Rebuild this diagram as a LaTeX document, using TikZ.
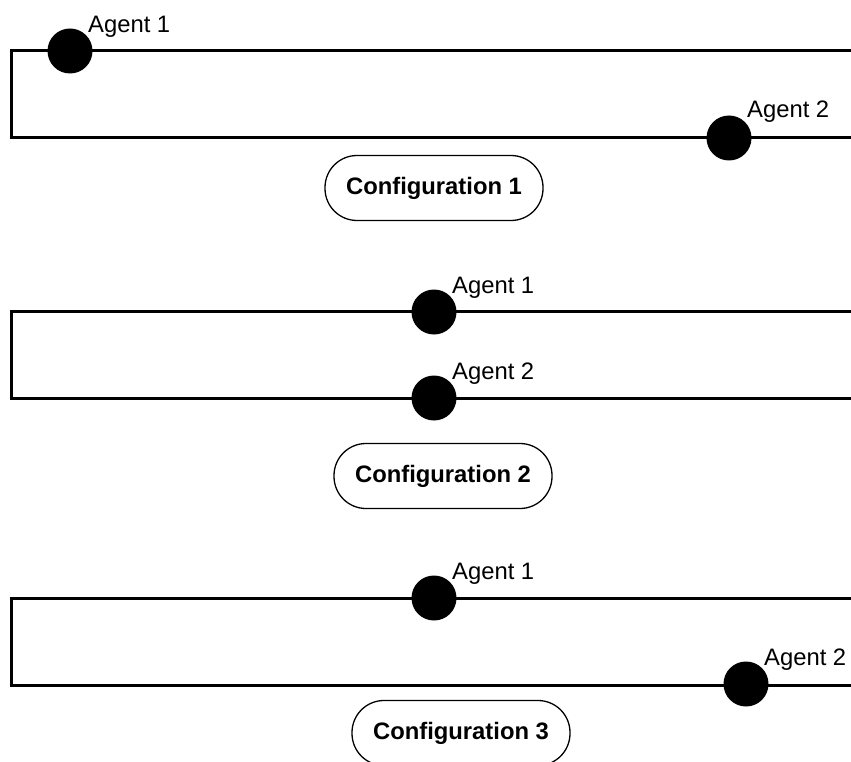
\documentclass[tikz,border=0pt]{standalone}
\usepackage{fontspec}
\setmainfont{Liberation Sans}
\begin{document}
\begin{tikzpicture}[x=1pt,y=-1pt,
  track/.style={line width=3pt, line join=miter},
  agent/.style={circle, fill=black, minimum size=45pt, inner sep=0pt},
  agentlabel/.style={anchor=base west, inner sep=0pt, font=\fontsize{23.8}{28}\selectfont},
  config/.style={draw, line width=1.3pt, rounded corners=32pt, minimum width=218pt,
    minimum height=65pt, inner sep=0pt, font=\bfseries\fontsize{23.8}{28}\selectfont}]
\useasboundingbox (0,0) rectangle (851,762);

% Configuration 1
\coordinate (t1) at (851,51);
\coordinate (b1) at (851,138);
\draw[track] (t1) -- (11,51) -- (11,138) -- (b1);
\node[agent] (a11) at (70,51) {};
\node[agentlabel] (l11) at ([shift={(18,-18)}]a11.center) {Agent 1};
\node[agent] (a12) at (729,138) {};
\node[agentlabel] (l12) at ([shift={(18,-20)}]a12.center) {Agent 2};
\node[config] (c1) at (434,188) {Configuration 1};

% Configuration 2
\coordinate (t2) at (851,311);
\coordinate (b2) at (851,398);
\draw[track] (t2) -- (11,311) -- (11,398) -- (b2);
\node[agent] (a21) at (434,312) {};
\node[agentlabel] (l21) at ([shift={(18,-19)}]a21.center) {Agent 1};
\node[agent] (a22) at (434,398) {};
\node[agentlabel] (l22) at ([shift={(18,-19)}]a22.center) {Agent 2};
\node[config] (c2) at (443,476) {Configuration 2};

% Configuration 3
\coordinate (t3) at (851,598);
\coordinate (b3) at (851,685);
\draw[track] (t3) -- (11,598) -- (11,685) -- (b3);
\node[agent] (a31) at (434,598) {};
\node[agentlabel] (l31) at ([shift={(18,-19)}]a31.center) {Agent 1};
\node[agent] (a32) at (746,684) {};
\node[agentlabel] (l32) at ([shift={(18,-19)}]a32.center) {Agent 2};
\node[config] (c3) at (461,733) {Configuration 3};
\end{tikzpicture}
\end{document}
